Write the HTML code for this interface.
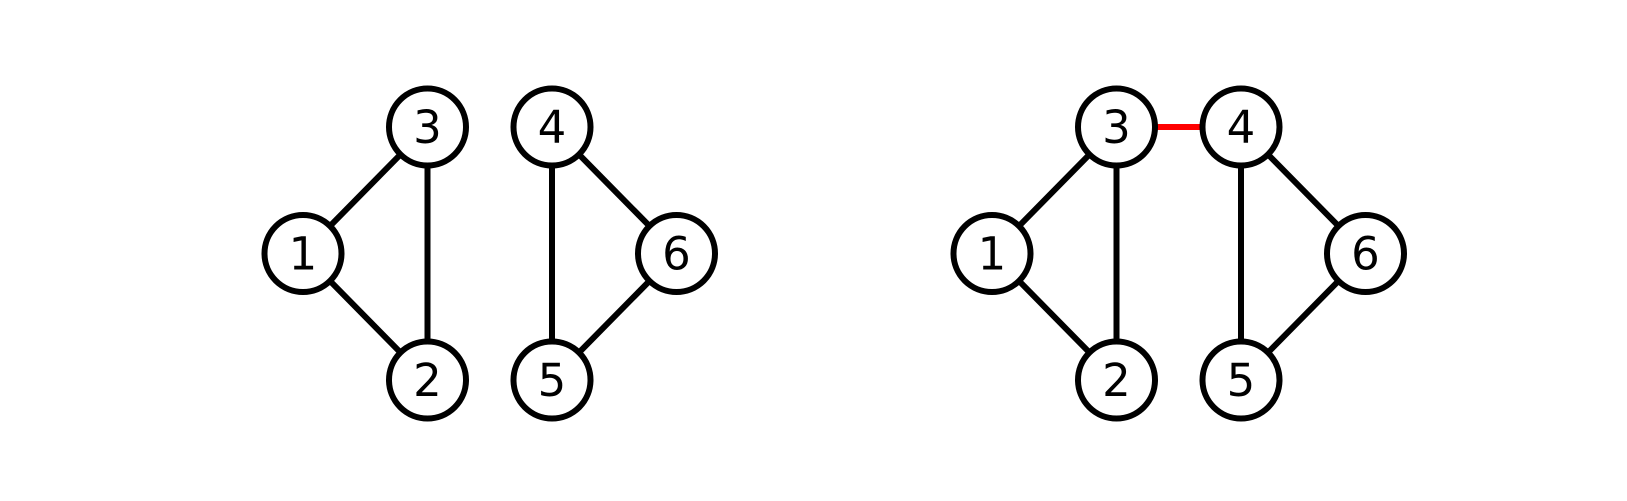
<!DOCTYPE html>
<html><head><meta charset="utf-8"><style>
html,body{margin:0;padding:0;background:#fff;width:1627px;height:501px;overflow:hidden}
svg{display:block}
</style></head><body>
<svg id="chart" width="1627" height="501" viewBox="0 0 1627 501" xmlns="http://www.w3.org/2000/svg">
<rect width="1627" height="501" fill="#fff"/>
</svg>
<script>
const nodeLabels = ["1","2","3","4","5","6"];
const nodeX = [0, 1, 1, 2, 2, 3];
const nodeY = [1, 2, 0, 0, 2, 1];
const edges = [[1,3],[1,2],[3,2],[4,5],[4,6],[6,5]];
const extraEdges = [[3,4]];
const panels = [{offset:303, extra:false},{offset:992, extra:true}];
const stepX = 124.5, stepY = 126.5, yTop = 127, r = 38.5;
const svg = document.getElementById('chart');
const NS = 'http://www.w3.org/2000/svg';
function px(i, off){return off + nodeX[i]*stepX;}
function py(i){return yTop + nodeY[i]*stepY;}
panels.forEach((p, pi) => {
  const g = document.createElementNS(NS,'g');
  
  
  svg.appendChild(g);
  const all = edges.map(e => [e, '#000']).concat(p.extra ? extraEdges.map(e => [e, '#ff0000']) : []);
  all.forEach(([e, col]) => {
    const a = nodeLabels.indexOf(String(e[0])), b = nodeLabels.indexOf(String(e[1]));
    const l = document.createElementNS(NS,'line');
    l.setAttribute('x1', px(a,p.offset)); l.setAttribute('y1', py(a));
    l.setAttribute('x2', px(b,p.offset)); l.setAttribute('y2', py(b));
    l.setAttribute('stroke', col); l.setAttribute('stroke-width', 6);
    
    
    g.appendChild(l);
  });
  nodeLabels.forEach((lab, i) => {
    const c = document.createElementNS(NS,'circle');
    c.setAttribute('cx', px(i,p.offset)); c.setAttribute('cy', py(i)); c.setAttribute('r', r);
    c.setAttribute('fill', '#fff'); c.setAttribute('stroke', '#000'); c.setAttribute('stroke-width', 6);
    
    
    g.appendChild(c);
    const t = document.createElementNS(NS,'text');
    t.setAttribute('x', px(i,p.offset)); t.setAttribute('y', py(i) + 16);
    t.setAttribute('text-anchor', 'middle');
    t.setAttribute('font-family', 'DejaVu Sans, Liberation Sans, sans-serif');
    t.setAttribute('font-size', '45');
    t.textContent = lab;
    
    
    g.appendChild(t);
  });
});
</script>
</body></html>
